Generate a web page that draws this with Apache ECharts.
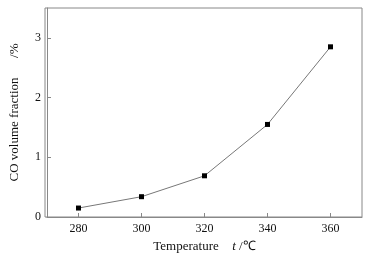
<!DOCTYPE html>
<html>
<head>
<meta charset="utf-8">
<script src="https://cdn.jsdelivr.net/npm/echarts@6/dist/echarts.min.js"></script>
<style>
  html, body { margin: 0; padding: 0; background: #fff; }
  #chart { width: 373px; height: 258px; }
</style>
</head>
<body>
<div id="chart"></div>
<script>
const temperatures = [280, 300, 320, 340, 360]
const coFraction = [0.15, 0.34, 0.69, 1.55, 2.85]

const font = '"Liberation Serif", "Times New Roman", serif'
const chart = echarts.init(document.getElementById('chart'))

chart.setOption({
  animation: false,
  grid: { left: 45, right: 11, top: 8, bottom: 41 },
  xAxis: {
    type: 'value',
    min: 270,
    max: 370,
    interval: 10,
    name: '{n|Temperature}    {i|t} {n|/℃}',
    nameLocation: 'middle',
    nameGap: 22,
    nameTextStyle: {
      rich: {
        n: { fontFamily: font, fontSize: 13, color: '#111' },
        i: { fontFamily: font, fontSize: 13, fontStyle: 'italic', color: '#111' }
      }
    },
    axisLine: { lineStyle: { color: '#888', width: 1 } },
    axisTick: {
      inside: true,
      length: 4,
      lineStyle: { color: '#888' },
      customValues: temperatures
    },
    axisLabel: {
      fontFamily: font,
      fontSize: 12,
      color: '#111',
      margin: 6,
      customValues: temperatures
    },
    splitLine: { show: false }
  },
  yAxis: {
    type: 'value',
    min: 0,
    max: 3.5,
    interval: 0.5,
    name: 'CO volume fraction      /%',
    nameLocation: 'middle',
    nameRotate: 90,
    nameGap: 26,
    nameTextStyle: { fontFamily: font, fontSize: 13, color: '#111' },
    axisLine: { show: true, lineStyle: { color: '#888', width: 1 } },
    axisTick: {
      inside: true,
      length: 4,
      lineStyle: { color: '#888' },
      customValues: [0, 1, 2, 3]
    },
    axisLabel: {
      fontFamily: font,
      fontSize: 12,
      color: '#111',
      margin: 6,
      customValues: [0, 1, 2, 3]
    },
    splitLine: { show: false }
  },
  series: [{
    type: 'line',
    data: temperatures.map((t, i) => [t, coFraction[i]]),
    symbol: 'rect',
    symbolSize: 5,
    itemStyle: { color: '#000' },
    lineStyle: { color: '#777', width: 1 }
  }],
  graphic: [{
    type: 'rect',
    shape: { x: 45, y: 8, width: 317, height: 209 },
    style: { fill: 'none', stroke: '#888', lineWidth: 1 },
    silent: true
  }]
})
</script>
</body>
</html>
